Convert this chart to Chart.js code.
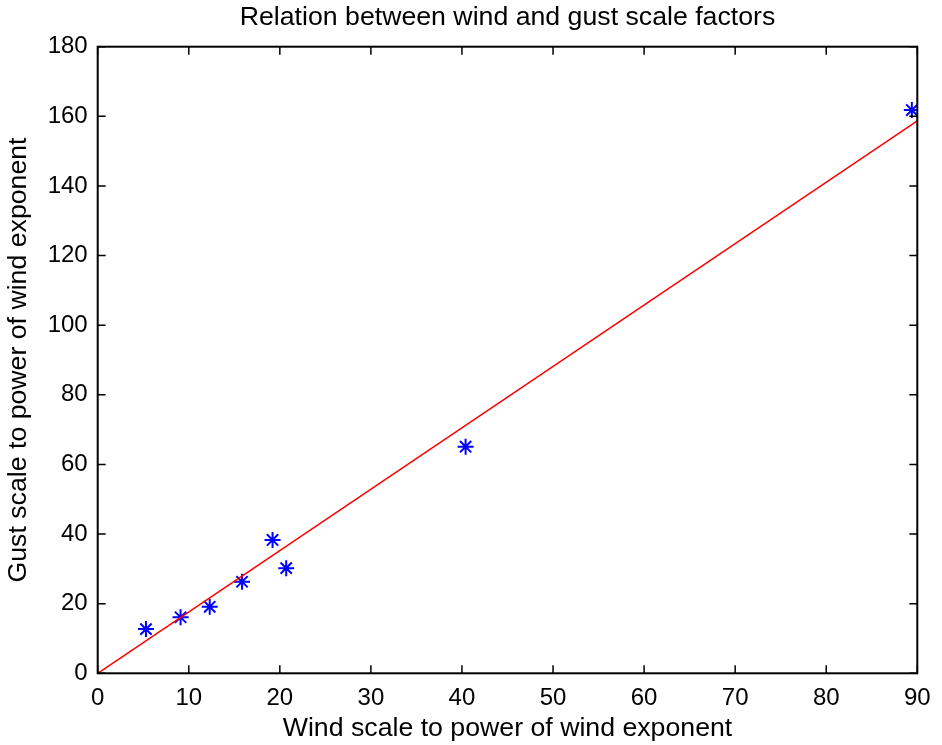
<!DOCTYPE html>
<html>
<head>
<meta charset="utf-8">
<script src="https://cdn.jsdelivr.net/npm/chart.js@4"></script>
<style>
  body { margin: 0; background: #fff; }
</style>
</head>
<body>
<canvas id="chart" width="942" height="745"></canvas>
<script>
// measured points (wind^k, gust^k)
const windScale = [5.3, 9.1, 12.3, 15.85, 19.2, 20.7, 40.4, 89.4];
const gustScale = [12.7, 16.1, 19.1, 26.3, 38.3, 30.2, 65.1, 161.8];
// fitted line through the origin
const fitX = [0, 90];
const fitY = [0, 158.7];
const xTicks = [0, 10, 20, 30, 40, 50, 60, 70, 80, 90];
const yTicks = [0, 20, 40, 60, 80, 100, 120, 140, 160, 180];

const FONT = "'Liberation Sans', Arial, Helvetica, sans-serif";

// box round the plot with inward ticks on all four sides
const boxTicks = {
  id: 'boxTicks',
  afterDraw(chart) {
    const { ctx, chartArea: a, scales: { x, y } } = chart;
    const len = 8;
    ctx.save();
    ctx.strokeStyle = '#000';
    ctx.lineWidth = 1.5;
    ctx.beginPath();
    xTicks.forEach(v => {
      const px = x.getPixelForValue(v);
      ctx.moveTo(px, a.bottom); ctx.lineTo(px, a.bottom - len);
      ctx.moveTo(px, a.top); ctx.lineTo(px, a.top + len);
    });
    yTicks.forEach(v => {
      const py = y.getPixelForValue(v);
      ctx.moveTo(a.left, py); ctx.lineTo(a.left + len, py);
      ctx.moveTo(a.right, py); ctx.lineTo(a.right - len, py);
    });
    ctx.stroke();
    ctx.lineWidth = 2;
    ctx.strokeRect(a.left, a.top, a.right - a.left, a.bottom - a.top);
    ctx.restore();
  }
};

new Chart(document.getElementById('chart'), {
  type: 'scatter',
  data: {
    datasets: [
      {
        type: 'line',
        label: 'fit',
        data: fitX.map((v, i) => ({ x: v, y: fitY[i] })),
        borderColor: '#ff0000',
        borderWidth: 1.5,
        pointRadius: 0,
        fill: false
      },
      {
        label: 'data',
        data: windScale.map((v, i) => ({ x: v, y: gustScale[i] })),
        pointStyle: 'star',
        pointRadius: 8,
        borderColor: '#0000ff',
        backgroundColor: '#0000ff',
        borderWidth: 2
      }
    ]
  },
  options: {
    responsive: false,
    animation: false,
    devicePixelRatio: 1,
    layout: { padding: { left: 0, top: 0, right: 24.7, bottom: 0 } },
    plugins: {
      legend: { display: false },
      tooltip: { enabled: false }
    },
    scales: {
      x: {
        type: 'linear',
        min: 0,
        max: 90,
        afterBuildTicks: s => { s.ticks = xTicks.map(v => ({ value: v })); },
        afterFit: s => { s.height = 71.7; },
        grid: { display: false, drawTicks: false },
        border: { display: false },
        ticks: { color: '#000', padding: 11, font: { family: FONT, size: 24 } },
        title: {
          display: true,
          text: 'Wind scale to power of wind exponent',
          color: '#000',
          font: { family: FONT, size: 26.7 },
          padding: 0
        }
      },
      // top axis only carries the chart title, centred over the plot
      x2: {
        type: 'linear',
        position: 'top',
        min: 0,
        max: 90,
        afterFit: s => { s.height = 46.7; },
        grid: { display: false, drawTicks: false },
        border: { display: false },
        ticks: { display: false },
        title: {
          display: true,
          text: 'Relation between wind and gust scale factors',
          color: '#000',
          font: { family: FONT, size: 26.7 },
          padding: { top: 1.4, bottom: 0 }
        }
      },
      y: {
        type: 'linear',
        min: 0,
        max: 180,
        afterBuildTicks: s => { s.ticks = yTicks.map(v => ({ value: v })); },
        afterFit: s => { s.width = 97.7; },
        grid: { display: false, drawTicks: false },
        border: { display: false },
        ticks: { color: '#000', padding: 10, font: { family: FONT, size: 24 } },
        title: {
          display: true,
          text: 'Gust scale to power of wind exponent',
          color: '#000',
          font: { family: FONT, size: 26.7 },
          padding: { top: 3, bottom: 0 }
        }
      }
    }
  },
  plugins: [boxTicks]
});
</script>
</body>
</html>
